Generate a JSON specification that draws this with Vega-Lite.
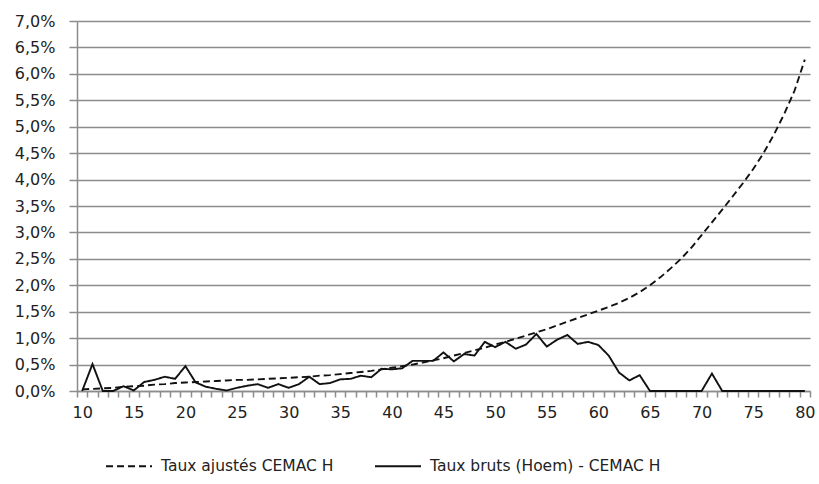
{
  "$schema": "https://vega.github.io/schema/vega-lite/v6.json",
  "width": 733,
  "height": 370,
  "autosize": {"type": "none"},
  "padding": {"left": 77, "top": 21, "right": 9, "bottom": 93},
  "background": "white",
  "config": {
    "font": "DejaVu Sans",
    "view": {"stroke": null}
  },
  "data": {
    "values": [
      {"age": 10, "serie": "Taux ajustés CEMAC H", "v": 0.03},
      {"age": 11, "serie": "Taux ajustés CEMAC H", "v": 0.04},
      {"age": 12, "serie": "Taux ajustés CEMAC H", "v": 0.05},
      {"age": 13, "serie": "Taux ajustés CEMAC H", "v": 0.06},
      {"age": 14, "serie": "Taux ajustés CEMAC H", "v": 0.08},
      {"age": 15, "serie": "Taux ajustés CEMAC H", "v": 0.09},
      {"age": 16, "serie": "Taux ajustés CEMAC H", "v": 0.10},
      {"age": 17, "serie": "Taux ajustés CEMAC H", "v": 0.12},
      {"age": 18, "serie": "Taux ajustés CEMAC H", "v": 0.13},
      {"age": 19, "serie": "Taux ajustés CEMAC H", "v": 0.15},
      {"age": 20, "serie": "Taux ajustés CEMAC H", "v": 0.16},
      {"age": 21, "serie": "Taux ajustés CEMAC H", "v": 0.17},
      {"age": 22, "serie": "Taux ajustés CEMAC H", "v": 0.18},
      {"age": 23, "serie": "Taux ajustés CEMAC H", "v": 0.19},
      {"age": 24, "serie": "Taux ajustés CEMAC H", "v": 0.20},
      {"age": 25, "serie": "Taux ajustés CEMAC H", "v": 0.21},
      {"age": 26, "serie": "Taux ajustés CEMAC H", "v": 0.21},
      {"age": 27, "serie": "Taux ajustés CEMAC H", "v": 0.22},
      {"age": 28, "serie": "Taux ajustés CEMAC H", "v": 0.23},
      {"age": 29, "serie": "Taux ajustés CEMAC H", "v": 0.24},
      {"age": 30, "serie": "Taux ajustés CEMAC H", "v": 0.25},
      {"age": 31, "serie": "Taux ajustés CEMAC H", "v": 0.26},
      {"age": 32, "serie": "Taux ajustés CEMAC H", "v": 0.27},
      {"age": 33, "serie": "Taux ajustés CEMAC H", "v": 0.29},
      {"age": 34, "serie": "Taux ajustés CEMAC H", "v": 0.30},
      {"age": 35, "serie": "Taux ajustés CEMAC H", "v": 0.32},
      {"age": 36, "serie": "Taux ajustés CEMAC H", "v": 0.34},
      {"age": 37, "serie": "Taux ajustés CEMAC H", "v": 0.36},
      {"age": 38, "serie": "Taux ajustés CEMAC H", "v": 0.38},
      {"age": 39, "serie": "Taux ajustés CEMAC H", "v": 0.41},
      {"age": 40, "serie": "Taux ajustés CEMAC H", "v": 0.44},
      {"age": 41, "serie": "Taux ajustés CEMAC H", "v": 0.47},
      {"age": 42, "serie": "Taux ajustés CEMAC H", "v": 0.50},
      {"age": 43, "serie": "Taux ajustés CEMAC H", "v": 0.54},
      {"age": 44, "serie": "Taux ajustés CEMAC H", "v": 0.58},
      {"age": 45, "serie": "Taux ajustés CEMAC H", "v": 0.62},
      {"age": 46, "serie": "Taux ajustés CEMAC H", "v": 0.67},
      {"age": 47, "serie": "Taux ajustés CEMAC H", "v": 0.72},
      {"age": 48, "serie": "Taux ajustés CEMAC H", "v": 0.77},
      {"age": 49, "serie": "Taux ajustés CEMAC H", "v": 0.82},
      {"age": 50, "serie": "Taux ajustés CEMAC H", "v": 0.88},
      {"age": 51, "serie": "Taux ajustés CEMAC H", "v": 0.93},
      {"age": 52, "serie": "Taux ajustés CEMAC H", "v": 0.99},
      {"age": 53, "serie": "Taux ajustés CEMAC H", "v": 1.05},
      {"age": 54, "serie": "Taux ajustés CEMAC H", "v": 1.11},
      {"age": 55, "serie": "Taux ajustés CEMAC H", "v": 1.17},
      {"age": 56, "serie": "Taux ajustés CEMAC H", "v": 1.24},
      {"age": 57, "serie": "Taux ajustés CEMAC H", "v": 1.31},
      {"age": 58, "serie": "Taux ajustés CEMAC H", "v": 1.38},
      {"age": 59, "serie": "Taux ajustés CEMAC H", "v": 1.45},
      {"age": 60, "serie": "Taux ajustés CEMAC H", "v": 1.52},
      {"age": 61, "serie": "Taux ajustés CEMAC H", "v": 1.59},
      {"age": 62, "serie": "Taux ajustés CEMAC H", "v": 1.67},
      {"age": 63, "serie": "Taux ajustés CEMAC H", "v": 1.76},
      {"age": 64, "serie": "Taux ajustés CEMAC H", "v": 1.87},
      {"age": 65, "serie": "Taux ajustés CEMAC H", "v": 2.00},
      {"age": 66, "serie": "Taux ajustés CEMAC H", "v": 2.15},
      {"age": 67, "serie": "Taux ajustés CEMAC H", "v": 2.32},
      {"age": 68, "serie": "Taux ajustés CEMAC H", "v": 2.50},
      {"age": 69, "serie": "Taux ajustés CEMAC H", "v": 2.71},
      {"age": 70, "serie": "Taux ajustés CEMAC H", "v": 2.95},
      {"age": 71, "serie": "Taux ajustés CEMAC H", "v": 3.19},
      {"age": 72, "serie": "Taux ajustés CEMAC H", "v": 3.43},
      {"age": 73, "serie": "Taux ajustés CEMAC H", "v": 3.68},
      {"age": 74, "serie": "Taux ajustés CEMAC H", "v": 3.93},
      {"age": 75, "serie": "Taux ajustés CEMAC H", "v": 4.20},
      {"age": 76, "serie": "Taux ajustés CEMAC H", "v": 4.50},
      {"age": 77, "serie": "Taux ajustés CEMAC H", "v": 4.85},
      {"age": 78, "serie": "Taux ajustés CEMAC H", "v": 5.24},
      {"age": 79, "serie": "Taux ajustés CEMAC H", "v": 5.68},
      {"age": 80, "serie": "Taux ajustés CEMAC H", "v": 6.27},
      {"age": 10, "serie": "Taux bruts (Hoem) - CEMAC H", "v": 0.0},
      {"age": 11, "serie": "Taux bruts (Hoem) - CEMAC H", "v": 0.51},
      {"age": 12, "serie": "Taux bruts (Hoem) - CEMAC H", "v": 0.0},
      {"age": 13, "serie": "Taux bruts (Hoem) - CEMAC H", "v": 0.0},
      {"age": 14, "serie": "Taux bruts (Hoem) - CEMAC H", "v": 0.09},
      {"age": 15, "serie": "Taux bruts (Hoem) - CEMAC H", "v": 0.01},
      {"age": 16, "serie": "Taux bruts (Hoem) - CEMAC H", "v": 0.17},
      {"age": 17, "serie": "Taux bruts (Hoem) - CEMAC H", "v": 0.21},
      {"age": 18, "serie": "Taux bruts (Hoem) - CEMAC H", "v": 0.27},
      {"age": 19, "serie": "Taux bruts (Hoem) - CEMAC H", "v": 0.23},
      {"age": 20, "serie": "Taux bruts (Hoem) - CEMAC H", "v": 0.47},
      {"age": 21, "serie": "Taux bruts (Hoem) - CEMAC H", "v": 0.16},
      {"age": 22, "serie": "Taux bruts (Hoem) - CEMAC H", "v": 0.08},
      {"age": 23, "serie": "Taux bruts (Hoem) - CEMAC H", "v": 0.04},
      {"age": 24, "serie": "Taux bruts (Hoem) - CEMAC H", "v": 0.01},
      {"age": 25, "serie": "Taux bruts (Hoem) - CEMAC H", "v": 0.06},
      {"age": 26, "serie": "Taux bruts (Hoem) - CEMAC H", "v": 0.10},
      {"age": 27, "serie": "Taux bruts (Hoem) - CEMAC H", "v": 0.13},
      {"age": 28, "serie": "Taux bruts (Hoem) - CEMAC H", "v": 0.06},
      {"age": 29, "serie": "Taux bruts (Hoem) - CEMAC H", "v": 0.13},
      {"age": 30, "serie": "Taux bruts (Hoem) - CEMAC H", "v": 0.06},
      {"age": 31, "serie": "Taux bruts (Hoem) - CEMAC H", "v": 0.13},
      {"age": 32, "serie": "Taux bruts (Hoem) - CEMAC H", "v": 0.27},
      {"age": 33, "serie": "Taux bruts (Hoem) - CEMAC H", "v": 0.13},
      {"age": 34, "serie": "Taux bruts (Hoem) - CEMAC H", "v": 0.15},
      {"age": 35, "serie": "Taux bruts (Hoem) - CEMAC H", "v": 0.22},
      {"age": 36, "serie": "Taux bruts (Hoem) - CEMAC H", "v": 0.23},
      {"age": 37, "serie": "Taux bruts (Hoem) - CEMAC H", "v": 0.29},
      {"age": 38, "serie": "Taux bruts (Hoem) - CEMAC H", "v": 0.26},
      {"age": 39, "serie": "Taux bruts (Hoem) - CEMAC H", "v": 0.42},
      {"age": 40, "serie": "Taux bruts (Hoem) - CEMAC H", "v": 0.41},
      {"age": 41, "serie": "Taux bruts (Hoem) - CEMAC H", "v": 0.43},
      {"age": 42, "serie": "Taux bruts (Hoem) - CEMAC H", "v": 0.57},
      {"age": 43, "serie": "Taux bruts (Hoem) - CEMAC H", "v": 0.57},
      {"age": 44, "serie": "Taux bruts (Hoem) - CEMAC H", "v": 0.57},
      {"age": 45, "serie": "Taux bruts (Hoem) - CEMAC H", "v": 0.73},
      {"age": 46, "serie": "Taux bruts (Hoem) - CEMAC H", "v": 0.56},
      {"age": 47, "serie": "Taux bruts (Hoem) - CEMAC H", "v": 0.70},
      {"age": 48, "serie": "Taux bruts (Hoem) - CEMAC H", "v": 0.67},
      {"age": 49, "serie": "Taux bruts (Hoem) - CEMAC H", "v": 0.93},
      {"age": 50, "serie": "Taux bruts (Hoem) - CEMAC H", "v": 0.83},
      {"age": 51, "serie": "Taux bruts (Hoem) - CEMAC H", "v": 0.93},
      {"age": 52, "serie": "Taux bruts (Hoem) - CEMAC H", "v": 0.80},
      {"age": 53, "serie": "Taux bruts (Hoem) - CEMAC H", "v": 0.88},
      {"age": 54, "serie": "Taux bruts (Hoem) - CEMAC H", "v": 1.08},
      {"age": 55, "serie": "Taux bruts (Hoem) - CEMAC H", "v": 0.84},
      {"age": 56, "serie": "Taux bruts (Hoem) - CEMAC H", "v": 0.97},
      {"age": 57, "serie": "Taux bruts (Hoem) - CEMAC H", "v": 1.06},
      {"age": 58, "serie": "Taux bruts (Hoem) - CEMAC H", "v": 0.89},
      {"age": 59, "serie": "Taux bruts (Hoem) - CEMAC H", "v": 0.93},
      {"age": 60, "serie": "Taux bruts (Hoem) - CEMAC H", "v": 0.87},
      {"age": 61, "serie": "Taux bruts (Hoem) - CEMAC H", "v": 0.67},
      {"age": 62, "serie": "Taux bruts (Hoem) - CEMAC H", "v": 0.35},
      {"age": 63, "serie": "Taux bruts (Hoem) - CEMAC H", "v": 0.20},
      {"age": 64, "serie": "Taux bruts (Hoem) - CEMAC H", "v": 0.30},
      {"age": 65, "serie": "Taux bruts (Hoem) - CEMAC H", "v": 0.0},
      {"age": 66, "serie": "Taux bruts (Hoem) - CEMAC H", "v": 0.0},
      {"age": 67, "serie": "Taux bruts (Hoem) - CEMAC H", "v": 0.0},
      {"age": 68, "serie": "Taux bruts (Hoem) - CEMAC H", "v": 0.0},
      {"age": 69, "serie": "Taux bruts (Hoem) - CEMAC H", "v": 0.0},
      {"age": 70, "serie": "Taux bruts (Hoem) - CEMAC H", "v": 0.0},
      {"age": 71, "serie": "Taux bruts (Hoem) - CEMAC H", "v": 0.33},
      {"age": 72, "serie": "Taux bruts (Hoem) - CEMAC H", "v": 0.0},
      {"age": 73, "serie": "Taux bruts (Hoem) - CEMAC H", "v": 0.0},
      {"age": 74, "serie": "Taux bruts (Hoem) - CEMAC H", "v": 0.0},
      {"age": 75, "serie": "Taux bruts (Hoem) - CEMAC H", "v": 0.0},
      {"age": 76, "serie": "Taux bruts (Hoem) - CEMAC H", "v": 0.0},
      {"age": 77, "serie": "Taux bruts (Hoem) - CEMAC H", "v": 0.0},
      {"age": 78, "serie": "Taux bruts (Hoem) - CEMAC H", "v": 0.0},
      {"age": 79, "serie": "Taux bruts (Hoem) - CEMAC H", "v": 0.0},
      {"age": 80, "serie": "Taux bruts (Hoem) - CEMAC H", "v": 0.0}
    ]
  },
  "mark": {"type": "line", "color": "#111111", "strokeWidth": 1.9, "strokeCap": "butt"},
  "encoding": {
    "x": {
      "field": "age",
      "type": "ordinal",
      "bandPosition": 0.5,
      "scale": {"type": "band", "paddingInner": 0, "paddingOuter": 0},
      "axis": {
        "title": null,
        "labelAngle": 0,
        "labelExpr": "datum.value % 5 == 0 ? datum.label : ''",
        "tickBand": "extent",
        "grid": false,
        "domainColor": "#8c8c8c",
        "domainWidth": 1.5,
        "tickColor": "#8c8c8c",
        "tickWidth": 1.5,
        "tickSize": 6,
        "labelFont": "DejaVu Sans",
        "labelFontSize": 16,
        "labelColor": "#222222",
        "labelPadding": 7
      }
    },
    "y": {
      "field": "v",
      "type": "quantitative",
      "scale": {"domain": [0, 7], "nice": false, "zero": true},
      "axis": {
        "title": null,
        "values": [0, 0.5, 1, 1.5, 2, 2.5, 3, 3.5, 4, 4.5, 5, 5.5, 6, 6.5, 7],
        "labelExpr": "replace(format(datum.value, '.1f'), '.', ',') + '%'",
        "grid": true,
        "gridColor": "#8c8c8c",
        "gridWidth": 1.5,
        "domainColor": "#8c8c8c",
        "domainWidth": 1.5,
        "tickColor": "#8c8c8c",
        "tickWidth": 1.5,
        "tickSize": 8,
        "labelFont": "DejaVu Sans",
        "labelFontSize": 16,
        "labelColor": "#222222",
        "labelPadding": 14
      }
    },
    "strokeDash": {
      "field": "serie",
      "type": "nominal",
      "scale": {
        "domain": ["Taux ajustés CEMAC H", "Taux bruts (Hoem) - CEMAC H"],
        "range": [[7, 4], [1, 0]]
      },
      "legend": {
        "title": null,
        "orient": "none",
        "direction": "horizontal",
        "legendX": 28,
        "legendY": 421,
        "symbolType": "stroke",
        "symbolSize": 2116,
        "symbolStrokeWidth": 1.9,
        "symbolStrokeColor": "#111111",
        "labelFont": "DejaVu Sans",
        "labelFontSize": 15.5,
        "labelColor": "#222222",
        "labelOffset": 8,
        "columnPadding": 37,
        "labelLimit": 400
      }
    }
  }
}
